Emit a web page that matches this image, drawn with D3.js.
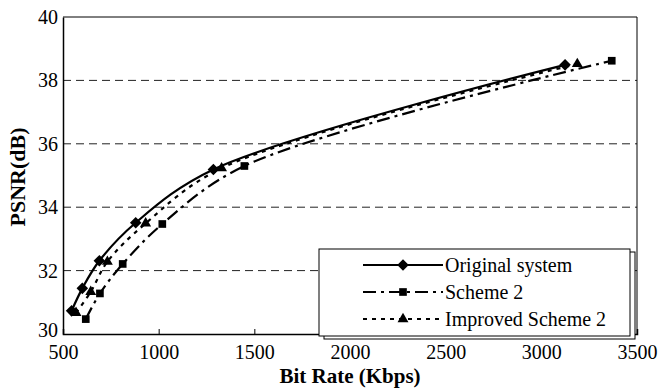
<!DOCTYPE html>
<html>
<head>
<meta charset="utf-8">
<script src="https://cdn.jsdelivr.net/npm/d3@7"></script>
<style>
  html, body { margin: 0; padding: 0; background: #fff; }
  svg { display: block; }
  svg text { font-family: "Liberation Serif", "Times New Roman", Tinos, "Nimbus Roman", "DejaVu Serif", "Noto Serif", serif; }
</style>
</head>
<body>
<div id="chart"></div>
<script>
// values
const originalRate = [545, 601, 690, 880, 1286, 3124];
const originalPsnr = [30.73, 31.44, 32.31, 33.51, 35.19, 38.49];

const schemeRate = [619, 693, 812, 1019, 1448, 3368];
const schemePsnr = [30.47, 31.28, 32.21, 33.47, 35.30, 38.62];

const improvedRate = [568, 645, 732, 932, 1329, 3188];
const improvedPsnr = [30.67, 31.33, 32.28, 33.49, 35.23, 38.52];

const seriesNames = ['Original system', 'Scheme 2', 'Improved Scheme 2'];
const xTicks = [500, 1000, 1500, 2000, 2500, 3000, 3500];
const yTicks = [30, 32, 34, 36, 38, 40];

const serif = '"Liberation Serif", "Times New Roman", Tinos, "Nimbus Roman", "DejaVu Serif", "Noto Serif", serif';
const width = 660, height = 389;
const margin = { left: 63, top: 17, right: 23, bottom: 55 };

const svg = d3.select('#chart').append('svg')
  .attr('width', width)
  .attr('height', height);

const x = d3.scaleLinear().domain([500, 3500]).range([margin.left, width - margin.right]);
const y = d3.scaleLinear().domain([30, 40]).range([height - margin.bottom, margin.top]);

// dashed grid
svg.append('g')
  .selectAll('line')
  .data(yTicks.filter(d => d > 30 && d < 40))
  .join('line')
  .attr('x1', x(500)).attr('x2', x(3500))
  .attr('y1', d => y(d)).attr('y2', d => y(d))
  .attr('stroke', '#222')
  .attr('stroke-width', 1)
  .attr('stroke-dasharray', '8,5');

// frame: top + right
svg.append('path')
  .attr('d', `M${x(500)},${y(40)}H${x(3500)}V${y(30)}`)
  .attr('fill', 'none')
  .attr('stroke', '#000')
  .attr('stroke-width', 1);

const xAxis = svg.append('g')
  .attr('transform', `translate(0,${y(30)})`)
  .call(d3.axisBottom(x).tickValues(xTicks).tickSize(-5).tickPadding(11).tickFormat(d3.format('d')));

const yAxis = svg.append('g')
  .attr('transform', `translate(${x(500)},0)`)
  .call(d3.axisLeft(y).tickValues(yTicks).tickSize(0).tickPadding(5));

[xAxis, yAxis].forEach(a => {
  a.attr('font-family', serif).attr('font-size', 20);
  a.select('.domain').attr('stroke', '#000').attr('stroke-width', 1.5);
  a.selectAll('.tick line').attr('stroke', '#000');
  a.selectAll('text').attr('fill', '#000');
});
// lowest y label sits a little higher, clear of the "500" below it
yAxis.selectAll('.tick text').filter(d => d === 30).attr('dy', '0.1em');

// axis titles
svg.append('text')
  .attr('x', 350).attr('y', 383)
  .attr('text-anchor', 'middle')
  .attr('font-family', serif)
  .attr('font-size', 21).attr('font-weight', 'bold')
  .text('Bit Rate (Kbps)');

svg.append('text')
  .attr('transform', 'translate(25,177) rotate(-90)')
  .attr('text-anchor', 'middle')
  .attr('font-family', serif)
  .attr('font-size', 22).attr('font-weight', 'bold')
  .text('PSNR(dB)');

const series = [
  { name: seriesNames[0], rate: originalRate, psnr: originalPsnr, dash: null, symbol: d3.symbolDiamond2, size: 85 },
  { name: seriesNames[1], rate: schemeRate, psnr: schemePsnr, dash: '13,5,3,5', symbol: d3.symbolSquare2, size: 75 },
  { name: seriesNames[2], rate: improvedRate, psnr: improvedPsnr, dash: '4,5', symbol: d3.symbolTriangle2, size: 85 }
];

const line = d3.line()
  .x(d => x(d[0]))
  .y(d => y(d[1]))
  .curve(d3.curveCatmullRom.alpha(0.5));

const plot = svg.append('g');

series.forEach(s => {
  const pts = s.rate.map((r, i) => [r, s.psnr[i]]);
  plot.append('path')
    .datum(pts)
    .attr('d', line)
    .attr('fill', 'none')
    .attr('stroke', '#000')
    .attr('stroke-width', 2.2)
    .attr('stroke-dasharray', s.dash);

  plot.selectAll(null)
    .data(pts)
    .join('path')
    .attr('transform', d => `translate(${x(d[0])},${y(d[1])})`)
    .attr('d', d3.symbol().type(s.symbol).size(s.size))
    .attr('fill', '#000');
});

// legend box (with a thin shadow like the original)
const lg = { x: 319, y: 249, w: 311, h: 87 };
svg.append('rect')
  .attr('x', lg.x + 5).attr('y', lg.y + 3)
  .attr('width', lg.w).attr('height', lg.h)
  .attr('fill', '#fff').attr('stroke', '#000').attr('stroke-width', 1);
svg.append('rect')
  .attr('x', lg.x).attr('y', lg.y)
  .attr('width', lg.w).attr('height', lg.h)
  .attr('fill', '#fff').attr('stroke', '#000').attr('stroke-width', 1);

series.forEach((s, i) => {
  const ly = 265 + i * 27;
  svg.append('line')
    .attr('x1', 363).attr('x2', 443)
    .attr('y1', ly).attr('y2', ly)
    .attr('stroke', '#000')
    .attr('stroke-width', 2.2)
    .attr('stroke-dasharray', s.dash);
  svg.append('path')
    .attr('transform', `translate(403,${ly})`)
    .attr('d', d3.symbol().type(s.symbol).size(s.size))
    .attr('fill', '#000');
  svg.append('text')
    .attr('x', 445).attr('y', ly)
    .attr('dy', '0.35em')
    .attr('font-family', serif)
    .attr('font-size', 20)
    .text(s.name);
});
</script>
</body>
</html>
